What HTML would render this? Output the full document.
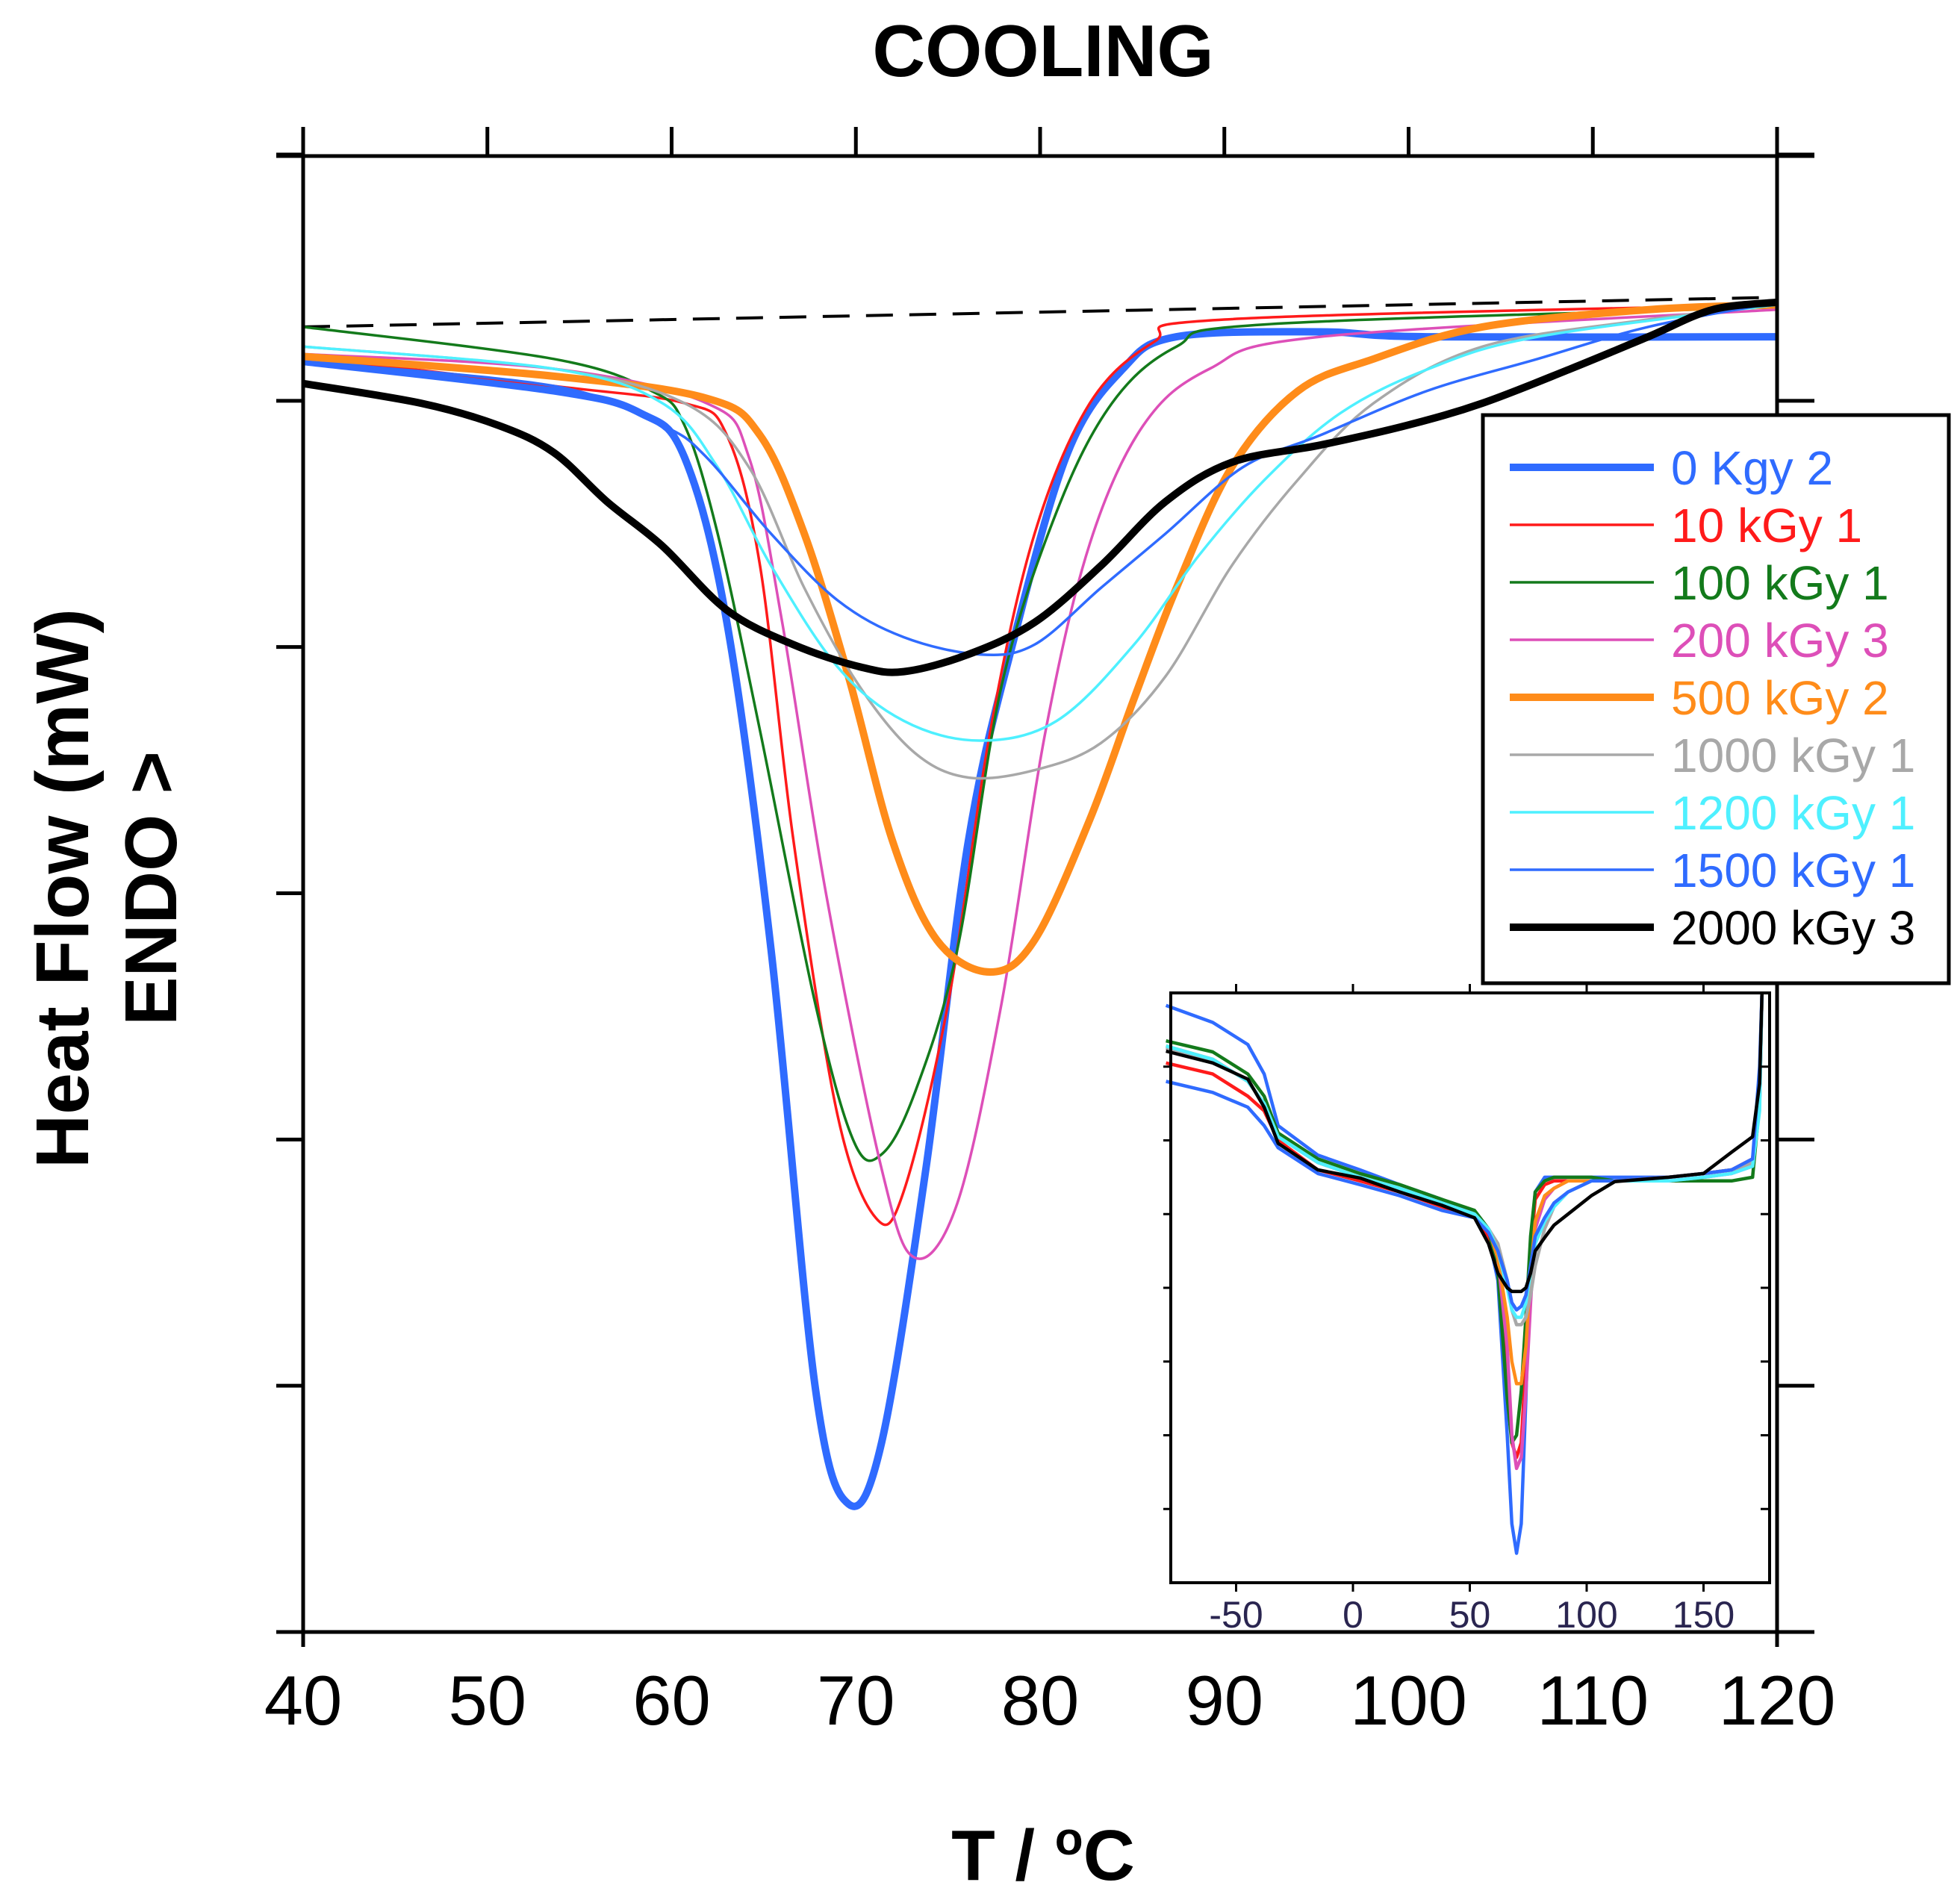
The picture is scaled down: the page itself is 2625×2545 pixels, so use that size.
<!DOCTYPE html>
<html><head><meta charset="utf-8"><style>
html,body{margin:0;padding:0;background:#fff;}
svg{display:block;font-family:"Liberation Sans",Arial,sans-serif;}
</style></head><body>
<svg id="chart" width="2625" height="2545" viewBox="0 0 2625 2545" xmlns="http://www.w3.org/2000/svg">
<rect width="2625" height="2545" fill="#fff"/>
<text x="1397" y="102" text-anchor="middle" font-size="98" font-weight="bold">COOLING</text>
<text x="1397" y="2518" text-anchor="middle" font-size="96" font-weight="bold">T / <tspan font-size="62" dy="-34">o</tspan><tspan dy="34">C</tspan></text>
<text transform="translate(118,1190) rotate(-90)" text-anchor="middle" font-size="100" font-weight="bold">Heat Flow (mW)</text>
<text transform="translate(236,1190) rotate(-90)" text-anchor="middle" font-size="98" font-weight="bold">ENDO &gt;</text>
<g id="main"></g>
<g id="inset"></g>
<g id="legend"></g>
</svg>
<script>
const NS="http://www.w3.org/2000/svg";
const seriesNames=["0 Kgy 2","10 kGy 1","100 kGy 1","200 kGy 3","500 kGy 2","1000 kGy 1","1200 kGy 1","1500 kGy 1","2000 kGy 3"];
const seriesColors=["#2f6bff","#ff1a1a","#137a1b","#dd4fb8","#ff8c1a","#a8a8a8","#4ef0ff","#2f6bff","#000000"];
const seriesWidths=[10,3.5,3.5,3.5,10,3.5,3.5,3.5,10];
const xTicks=[40,50,60,70,80,90,100,110,120];
const yTicks=[0,1,2,3,4,5,6];
const dashedX=[40,120];
const dashedY=[5.30,5.42];
// main chart data: [T, heat flow units]
const s0X=[40,53.6,58.3,60.7,63,65.4,67.8,69.6,71.4,73.8,76.1,78.5,81.5,84.5,87.4,95.2,101,120];
const s0Y=[5.16,5.04,4.95,4.77,4.1,2.77,0.99,0.52,0.77,1.88,3.21,4.01,4.79,5.13,5.26,5.28,5.26,5.26];
const s1X=[40,53.6,60.7,63,64.8,66.6,69,71.1,72.6,75,77.3,79.7,82.7,86.2,90,120];
const s1Y=[5.18,5.06,4.99,4.86,4.33,3.22,2.1,1.68,1.79,2.55,3.66,4.46,4.99,5.24,5.33,5.39];
const s2X=[40,53.6,58.9,60.7,62.5,64.8,67.8,69.9,71.4,73.2,75.5,77.9,80.9,83.9,87.4,92.2,120];
const s2Y=[5.30,5.17,5.04,4.9,4.46,3.66,2.55,1.99,1.94,2.19,2.77,3.84,4.55,4.99,5.22,5.31,5.38];
const s3X=[40,53.6,61.9,64.2,66,68.4,71.4,73.2,75.5,77.9,80.3,82.7,85.6,89.2,95.2,120];
const s3Y=[5.19,5.13,4.99,4.77,4.1,2.99,1.88,1.52,1.74,2.55,3.66,4.42,4.9,5.13,5.26,5.37];
const s4X=[40,53.6,61.9,64.8,67.2,69.6,72,74.4,77.3,79.7,82.7,85.1,87.4,90.4,94,98.1,104,113,120];
const s4Y=[5.18,5.1,5.01,4.86,4.46,3.88,3.21,2.81,2.68,2.81,3.3,3.79,4.24,4.73,5.04,5.17,5.3,5.37,5.39];
const s5X=[40,53.6,60.7,64.2,67.2,70.2,73.2,76.1,79.7,83.3,86.8,90.4,94,98.1,104,113,120];
const s5Y=[5.22,5.13,4.99,4.73,4.24,3.84,3.57,3.47,3.5,3.61,3.88,4.33,4.68,4.99,5.22,5.33,5.39];
const s6X=[40,53.6,59.5,62.5,65.4,69,72.6,76.7,80.9,85.1,88.6,92.2,96.3,101.1,107,120];
const s6Y=[5.22,5.13,4.99,4.73,4.33,3.92,3.7,3.62,3.7,4.01,4.37,4.68,4.95,5.13,5.26,5.39];
const s7X=[40,53.6,59.5,61.9,65.4,69,72.6,76.7,79.7,83.3,86.8,91,95.2,101,107,113,120];
const s7Y=[5.16,5.06,4.9,4.77,4.46,4.19,4.04,3.97,4.01,4.24,4.46,4.73,4.86,5.04,5.17,5.3,5.4];
const s8X=[40,46.4,50.6,53.6,56.5,59.5,63,66.6,70.2,72.6,76.1,79.7,83.3,86.8,90.4,95.2,99.9,104,108.8,113,116.5,120];
const s8Y=[5.07,4.99,4.9,4.79,4.59,4.41,4.15,4.01,3.92,3.9,3.97,4.1,4.33,4.59,4.75,4.82,4.9,4.99,5.13,5.26,5.37,5.4];
// inset data
const insetXTicks=[-50,0,50,100,150];
const insetYTicks=[1,2,3,4,5,6,7];
const iX=[-80,-60,-45,-38,-32,-15,3,20,38,52,58,62,66,68,70,72,74,76,78,82,86,92,102,112,135,150,162,171,174,175];
const i0Y=[7.83,7.6,7.3,6.9,6.2,5.8,5.6,5.4,5.2,5.0,4.7,4.1,2.0,0.8,0.4,0.8,2.5,4.5,5.3,5.5,5.5,5.5,5.5,5.5,5.5,5.55,5.6,5.7,6.9,8.0];
const i1Y=[7.05,6.9,6.6,6.4,6.0,5.6,5.45,5.3,5.1,4.95,4.7,4.3,2.8,1.9,1.7,1.9,3.0,4.5,5.2,5.4,5.45,5.45,5.45,5.45,5.5,5.55,5.6,5.75,6.5,8.0];
const i2Y=[7.35,7.2,6.9,6.6,6.1,5.75,5.55,5.4,5.2,5.05,4.8,4.2,2.5,1.9,2.0,2.6,3.6,4.7,5.3,5.45,5.5,5.5,5.5,5.45,5.45,5.45,5.45,5.5,6.5,8.0];
const i3Y=[7.25,7.1,6.8,6.5,6.05,5.7,5.5,5.35,5.15,5.0,4.8,4.4,3.2,2.0,1.55,1.7,2.6,3.8,4.8,5.2,5.35,5.45,5.45,5.45,5.45,5.5,5.55,5.65,6.5,8.0];
const i4Y=[7.28,7.1,6.8,6.5,6.05,5.7,5.5,5.35,5.15,5.0,4.8,4.4,3.6,3.0,2.7,2.7,3.2,4.2,4.9,5.25,5.35,5.45,5.45,5.45,5.5,5.55,5.6,5.7,6.6,8.0];
const i5Y=[7.25,7.1,6.8,6.5,6.05,5.7,5.5,5.35,5.15,5.0,4.8,4.6,4.1,3.7,3.5,3.5,3.6,3.9,4.3,4.8,5.1,5.3,5.45,5.45,5.5,5.55,5.6,5.7,6.6,8.0];
const i6Y=[7.28,7.1,6.8,6.5,6.05,5.7,5.5,5.35,5.15,5.0,4.8,4.5,4.0,3.7,3.6,3.6,3.8,4.2,4.6,4.9,5.1,5.3,5.45,5.45,5.45,5.5,5.55,5.65,6.4,8.0];
const i7Y=[6.8,6.65,6.45,6.2,5.9,5.55,5.4,5.25,5.05,4.95,4.75,4.5,4.1,3.8,3.7,3.75,3.9,4.3,4.7,4.95,5.15,5.3,5.45,5.45,5.5,5.55,5.6,5.75,7.0,8.0];
const i8Y=[7.21,7.05,6.83,6.45,5.96,5.6,5.49,5.3,5.12,4.95,4.6,4.2,4.0,3.95,3.95,3.95,4.0,4.2,4.5,4.68,4.85,5.0,5.25,5.44,5.5,5.55,5.84,6.05,6.77,8.0];

const mainXs=[s0X,s1X,s2X,s3X,s4X,s5X,s6X,s7X,s8X];
const mainYs=[s0Y,s1Y,s2Y,s3Y,s4Y,s5Y,s6Y,s7Y,s8Y];
const insetYs=[i0Y,i1Y,i2Y,i3Y,i4Y,i5Y,i6Y,i7Y,i8Y];

const L=406,R=2380,T=207,B=2186;
const xs=v=>L+(v-40)/80*(R-L);
const ys=v=>B-v/6*(B-T);
const IL=1568,IR=2370,IT=1330,IB=2120;
const ixs=v=>1812+v*3.13;
const iys=v=>IB-v/8*(IB-IT);

function mk(tag,attrs,parent){const e=document.createElementNS(NS,tag);for(const k in attrs)e.setAttribute(k,attrs[k]);parent.appendChild(e);return e;}
function smooth(pts){
  let d="M"+pts[0][0].toFixed(1)+","+pts[0][1].toFixed(1);
  for(let i=0;i<pts.length-1;i++){
    const p0=pts[Math.max(0,i-1)],p1=pts[i],p2=pts[i+1],p3=pts[Math.min(pts.length-1,i+2)];
    const c1=[p1[0]+(p2[0]-p0[0])/6,p1[1]+(p2[1]-p0[1])/6];
    const c2=[p2[0]-(p3[0]-p1[0])/6,p2[1]-(p3[1]-p1[1])/6];
    d+=" C"+c1[0].toFixed(1)+","+c1[1].toFixed(1)+" "+c2[0].toFixed(1)+","+c2[1].toFixed(1)+" "+p2[0].toFixed(1)+","+p2[1].toFixed(1);
  }
  return d;
}
const main=document.getElementById('main');
const dl=mk('line',{x1:xs(dashedX[0]),y1:ys(dashedY[0]),x2:xs(dashedX[1]),y2:ys(dashedY[1]),stroke:'#000','stroke-width':4,'stroke-dasharray':'36,22'},main);


for(let s=0;s<mainXs.length;s++){
  const pts=mainXs[s].map((x,i)=>[xs(x),ys(mainYs[s][i])]);
  const p=mk('path',{d:smooth(pts),fill:'none',stroke:seriesColors[s],'stroke-width':seriesWidths[s],'stroke-linejoin':'round'},main);
  
  
}
const ax=mk('g',{stroke:'#000','stroke-width':5},main);


mk('line',{x1:370,y1:T+2,x2:2430,y2:T+2},ax);
mk('line',{x1:370,y1:B,x2:2430,y2:B},ax);
mk('line',{x1:L,y1:170,x2:L,y2:B+20},ax);
mk('line',{x1:R,y1:170,x2:R,y2:B+20},ax);
for(const t of xTicks){
  mk('line',{x1:xs(t),y1:170,x2:xs(t),y2:T},ax);
  const tx=mk('text',{x:xs(t),y:2310,'text-anchor':'middle','font-size':94,stroke:'none',fill:'#000'},main);
  tx.textContent=t;
  
  
}
for(const t of yTicks){
  mk('line',{x1:370,y1:ys(t),x2:L,y2:ys(t)},ax);
  mk('line',{x1:R,y1:ys(t),x2:2430,y2:ys(t)},ax);
}
const ins=document.getElementById('inset');


mk('rect',{x:IL,y:IT,width:IR-IL,height:IB-IT,fill:'#fff',stroke:'none'},ins);
for(let s=0;s<insetYs.length;s++){
  const pts=iX.map((x,i)=>[ixs(x),iys(insetYs[s][i])]);
  const p=mk('polyline',{points:pts.map(q=>q[0].toFixed(1)+","+q[1].toFixed(1)).join(" "),fill:'none',stroke:seriesColors[s],'stroke-width':4.5,'stroke-linejoin':'round'},ins);
  
  
}
mk('rect',{x:IL,y:IT,width:IR-IL,height:IB-IT,fill:'none',stroke:'#000','stroke-width':4},ins);
for(const t of insetXTicks){
  mk('line',{x1:ixs(t),y1:IT-12,x2:ixs(t),y2:IT,stroke:'#000','stroke-width':3},ins);
  mk('line',{x1:ixs(t),y1:IB,x2:ixs(t),y2:IB+12,stroke:'#000','stroke-width':3},ins);
  const tx=mk('text',{x:ixs(t),y:IB+60,'text-anchor':'middle','font-size':50,fill:'#2a2550'},ins);
  tx.textContent=t;
  
  
}
for(const t of insetYTicks){
  mk('line',{x1:IL-10,y1:iys(t),x2:IL,y2:iys(t),stroke:'#000','stroke-width':3},ins);
  mk('line',{x1:IR-12,y1:iys(t),x2:IR,y2:iys(t),stroke:'#000','stroke-width':3},ins);
}
const lg=document.getElementById('legend');


mk('rect',{x:1986,y:556,width:624,height:761,fill:'#fff',stroke:'#000','stroke-width':5},lg);
for(let s=0;s<seriesNames.length;s++){
  const y=626+s*77;
  const g=mk('g',{},lg);
  
  
  mk('line',{x1:2022,y1:y,x2:2215,y2:y,stroke:seriesColors[s],'stroke-width':seriesWidths[s]},g);
  const tx=mk('text',{x:2238,y:y+23,'font-size':64,fill:seriesColors[s]},g);
  tx.textContent=seriesNames[s];
}
</script>
</body></html>
